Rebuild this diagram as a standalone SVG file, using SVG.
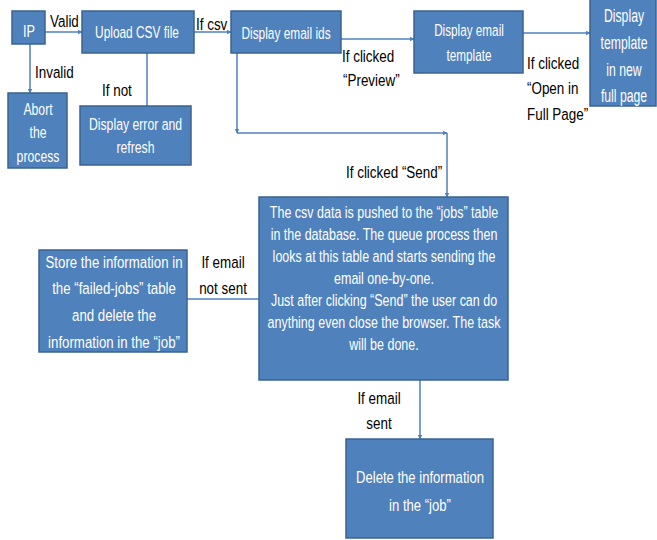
<svg xmlns="http://www.w3.org/2000/svg" width="657" height="540" viewBox="0 0 657 540">
<style>
.box{fill:#4F81BD;stroke:#3A6390;stroke-width:1.5}
.wt{fill:#fff;font-family:"Liberation Sans",Arial,sans-serif;font-size:17px;text-anchor:middle;dominant-baseline:central}
.big{font-size:18px}
.bt{fill:#000;font-family:"Liberation Sans",Arial,sans-serif;font-size:17px;dominant-baseline:central}
.mid{text-anchor:middle}
.c{fill:none;stroke:#4F81BD;stroke-width:1.5}
</style>
<defs>
<marker id="ah" viewBox="0 0 10 10" refX="9" refY="5" markerWidth="5" markerHeight="5" orient="auto" markerUnits="userSpaceOnUse">
<path d="M0,0L10,5L0,10z" fill="#4F81BD"/>
</marker>
</defs>
<rect width="657" height="540" fill="#fff"/>
<g id="connectors">
<line class="c" x1="45" y1="32" x2="82" y2="32" marker-end="url(#ah)"/>
<line class="c" x1="30" y1="44" x2="30" y2="93" marker-end="url(#ah)"/>
<line class="c" x1="147" y1="53" x2="147" y2="106"/>
<line class="c" x1="194" y1="32" x2="231" y2="32" marker-end="url(#ah)"/>
<line class="c" x1="341" y1="39" x2="414" y2="39" marker-end="url(#ah)"/>
<line class="c" x1="523" y1="33" x2="590" y2="33" marker-end="url(#ah)"/>
<line class="c" x1="237" y1="53" x2="237" y2="133" marker-end="url(#ah)"/>
<line class="c" x1="237" y1="133" x2="447" y2="133" marker-end="url(#ah)"/>
<line class="c" x1="447" y1="133" x2="447" y2="197" marker-end="url(#ah)"/>
<line class="c" x1="187" y1="299" x2="259" y2="299"/>
<line class="c" x1="420" y1="380" x2="420" y2="439" marker-end="url(#ah)"/>
<text class="bt" transform="matrix(0.79 0 0 1 50 0)" x="0" y="21">Valid</text>
<text class="bt" transform="matrix(0.79 0 0 1 35 0)" x="0" y="72">Invalid</text>
<text class="bt" transform="matrix(0.79 0 0 1 102 0)" x="0" y="90">If not</text>
<text class="bt" transform="matrix(0.79 0 0 1 196 0)" x="0" y="24">If csv</text>
<text class="bt" transform="matrix(0.79 0 0 1 342 0)" x="0" y="56">If clicked</text>
<text class="bt" transform="matrix(0.79 0 0 1 343 0)" x="0" y="80">“Preview”</text>
<text class="bt" transform="matrix(0.79 0 0 1 527 0)" x="0" y="63">If clicked</text>
<text class="bt" transform="matrix(0.79 0 0 1 527 0)" x="0" y="88">“Open in</text>
<text class="bt" transform="matrix(0.79 0 0 1 527 0)" x="0" y="114">Full Page”</text>
<text class="bt" transform="matrix(0.79 0 0 1 346 0)" x="0" y="172">If clicked “Send”</text>
<text class="bt mid" transform="matrix(0.79 0 0 1 223 0)" x="0" y="262">If email</text>
<text class="bt mid" transform="matrix(0.79 0 0 1 223 0)" x="0" y="288">not sent</text>
<text class="bt mid" transform="matrix(0.79 0 0 1 379 0)" x="0" y="398">If email</text>
<text class="bt mid" transform="matrix(0.79 0 0 1 379 0)" x="0" y="423">sent</text>
</g>
<g id="ip"><rect class="box" x="12" y="11" width="33" height="33"/><text class="wt" transform="matrix(0.75 0 0 1 29 0)" x="0" y="31">IP</text></g>
<g id="upload"><rect class="box" x="82" y="11" width="112" height="42"/><text class="wt" transform="matrix(0.7 0 0 1 137 0)" x="0" y="32">Upload CSV file</text></g>
<g id="abort"><rect class="box" x="8" y="93" width="59" height="75"/><g transform="matrix(0.72 0 0 1 38 0)"><text class="wt" x="0" y="109">Abort</text><text class="wt" x="0" y="132">the</text><text class="wt" x="0" y="156">process</text></g></g>
<g id="error"><rect class="box" x="80" y="106" width="111" height="59"/><g transform="matrix(0.72 0 0 1 135.5 0)"><text class="wt" x="0" y="124">Display error and</text><text class="wt" x="0" y="147">refresh</text></g></g>
<g id="emailids"><rect class="box" x="231" y="11" width="110" height="42"/><text class="wt" transform="matrix(0.7 0 0 1 286 0)" x="0" y="33">Display email ids</text></g>
<g id="template"><rect class="box" x="414" y="11" width="109" height="62"/><g transform="matrix(0.69 0 0 1 469 0)"><text class="wt" x="0" y="30">Display email</text><text class="wt" x="0" y="55">template</text></g></g>
<g id="fullpage"><rect class="box" x="590" y="-2" width="66" height="108"/><g transform="matrix(0.68 0 0 1 624 0)"><text class="wt big" x="0" y="16">Display</text><text class="wt big" x="0" y="43">template</text><text class="wt big" x="0" y="70">in new</text><text class="wt big" x="0" y="96">full page</text></g></g>
<g id="jobs"><rect class="box" x="259" y="197" width="249" height="183"/>
<g transform="matrix(0.735 0 0 1 384 0)">
<text class="wt" x="0" y="212">The csv data is pushed to the “jobs” table</text>
<text class="wt" x="0" y="234">in the database. The queue process then</text>
<text class="wt" x="0" y="256">looks at this table and starts sending the</text>
<text class="wt" x="0" y="278">email one-by-one.</text>
<text class="wt" x="0" y="300">Just after clicking “Send” the user can do</text>
<text class="wt" x="0" y="322">anything even close the browser. The task</text>
<text class="wt" x="0" y="344">will be done.</text>
</g></g>
<g id="failed"><rect class="box" x="39" y="250" width="148" height="102"/>
<g transform="matrix(0.78 0 0 1 114 0)">
<text class="wt" x="0" y="262">Store the information in</text>
<text class="wt" x="0" y="288">the “failed-jobs” table</text>
<text class="wt" x="0" y="315">and delete the</text>
<text class="wt" x="0" y="342">information in the “job”</text>
</g></g>
<g id="delete"><rect class="box" x="346" y="439" width="147" height="99"/>
<g transform="matrix(0.77 0 0 1 420 0)">
<text class="wt" x="0" y="477">Delete the information</text>
<text class="wt" x="0" y="505">in the “job”</text>
</g></g>
</svg>
